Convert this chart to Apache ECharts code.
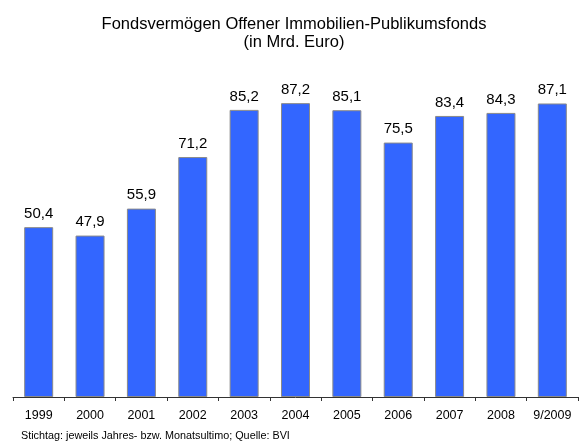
<!DOCTYPE html>
<html>
<head>
<meta charset="utf-8">
<script src="https://cdn.jsdelivr.net/npm/echarts@6/dist/echarts.min.js"></script>
<style>
  html, body { margin: 0; padding: 0; background: #fff; }
  #chart { width: 588px; height: 446px; }
</style>
</head>
<body>
<div id="chart"></div>
<script>
// Kategorien und Werte (Mrd. Euro)
var years = ['1999', '2000', '2001', '2002', '2003', '2004', '2005', '2006', '2007', '2008', '9/2009'];
var volumes = [50.4, 47.9, 55.9, 71.2, 85.2, 87.2, 85.1, 75.5, 83.4, 84.3, 87.1];

var font = 'Liberation Sans, Arial, sans-serif';
var chart = echarts.init(document.getElementById('chart'), null, {renderer: 'canvas'});

chart.setOption({
    backgroundColor: '#fff',
    animation: false,
    title: [{
        text: 'Fondsvermögen Offener Immobilien-Publikumsfonds\n(in Mrd. Euro)',
        left: 289,
        textAlign: 'center',
        top: 10,
        textStyle: {fontFamily: font, fontSize: 16.5, fontWeight: 'normal', color: '#000', lineHeight: 18}
    }, {
        text: 'Stichtag: jeweils Jahres- bzw. Monatsultimo; Quelle: BVI',
        left: 16,
        top: 426,
        textStyle: {fontFamily: font, fontSize: 10.8, fontWeight: 'normal', color: '#000'}
    }],
    grid: {left: 13, right: 10, top: 60, bottom: 49},
    xAxis: {
        type: 'category',
        data: years,
        axisLine: {lineStyle: {color: '#333', width: 1}},
        axisTick: {show: true, length: 4, lineStyle: {color: '#333'}},
        axisLabel: {fontFamily: font, fontSize: 12.5, color: '#000', margin: 12}
    },
    yAxis: {
        type: 'value',
        min: 0,
        max: 100,
        show: false,
        splitLine: {show: false}
    },
    series: [{
        type: 'bar',
        data: volumes,
        barWidth: 29,
        itemStyle: {color: '#3366FF', borderColor: '#8a8a8a', borderWidth: 1},
        label: {
            show: true,
            position: 'top',
            distance: 6,
            fontFamily: font,
            fontSize: 15,
            color: '#000',
            formatter: function (p) {
                return p.value.toFixed(1).replace('.', ',');
            }
        }
    }]
});
</script>
</body>
</html>
